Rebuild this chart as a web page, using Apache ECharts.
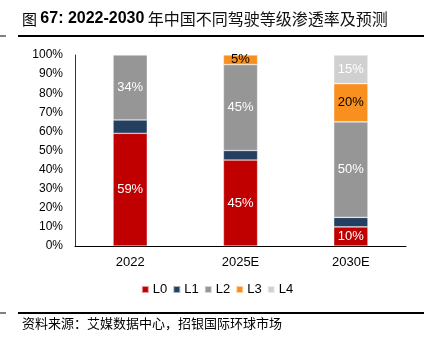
<!DOCTYPE html>
<html>
<head>
<meta charset="utf-8">
<script src="https://cdn.jsdelivr.net/npm/echarts@6/dist/echarts.min.js"></script>
<style>
  html, body { margin: 0; padding: 0; background: #fff; }
  #chart { width: 434px; height: 343px; }
</style>
</head>
<body>
<div id="chart"></div>
<script>
// Penetration of driving-automation levels in China, 2022-2030 (%)
const categories = ['2022', '2025E', '2030E'];
const levelNames = ['L0', 'L1', 'L2', 'L3', 'L4'];
const L0 = [59, 45, 10];
const L1 = [7, 5, 5];
const L2 = [34, 45, 50];
const L3 = [0, 5, 20];
const L4 = [0, 0, 15];
const yTicks = [0, 10, 20, 30, 40, 50, 60, 70, 80, 90, 100];

const colors = ['#C00000', '#243F60', '#969696', '#F7901E', '#D0D0D0'];
const labelColors = ['#fff', null, '#fff', '#000', '#fff'];
const seriesValues = [L0, L1, L2, L3, L4];

const font = '"Liberation Sans", Arial, sans-serif';
const cjk = '"Noto Sans CJK SC", sans-serif';

const chart = echarts.init(document.getElementById('chart'), null, { renderer: 'canvas' });

const series = levelNames.map((name, i) => ({
  name: name,
  type: 'bar',
  stack: 'total',
  barWidth: '31%',
  data: seriesValues[i].map(v => (v === 0 ? null : v)),
  itemStyle: { color: colors[i], borderColor: 'rgba(255,255,255,0.6)', borderWidth: 0.6 },
  label: {
    show: labelColors[i] !== null,
    position: 'inside',
    formatter: p => p.value + '%',
    color: labelColors[i] || '#fff',
    fontFamily: font,
    fontSize: 13
  },
  emphasis: { disabled: true }
}));

chart.setOption({
  animation: false,
  backgroundColor: '#fff',
  grid: { left: 75, right: 28, top: 55, bottom: 97, containLabel: false },
  legend: {
    data: levelNames,
    bottom: 42,
    left: 'center',
    icon: 'rect',
    itemWidth: 7,
    itemHeight: 7,
    itemGap: 5,
    textStyle: { fontFamily: font, fontSize: 13, color: '#000', padding: [0, 0, 0, -1] }
  },
  xAxis: {
    type: 'category',
    data: categories,
    axisLine: { lineStyle: { color: '#000', width: 1 } },
    axisTick: { show: false },
    axisLabel: { color: '#000', fontFamily: font, fontSize: 13, margin: 10 }
  },
  yAxis: {
    type: 'value',
    min: yTicks[0],
    max: yTicks[yTicks.length - 1],
    interval: yTicks[1] - yTicks[0],
    splitLine: { show: false },
    axisLine: { show: true, lineStyle: { color: '#333', width: 1 } },
    axisTick: { show: false },
    axisLabel: { color: '#000', fontFamily: font, fontSize: 12, margin: 12, formatter: '{value}%' }
  },
  graphic: [
    {
      type: 'text', left: 22, top: 11,
      style: {
        text: '{a|图} {b|67: 2022-2030} {c|年中国不同驾驶等级渗透率及预测}',
        rich: {
          a: { font: '15px ' + cjk, fill: '#000' },
          b: { font: 'bold 16px ' + font, fill: '#000' },
          c: { font: '16px ' + cjk, fill: '#111' }
        }
      }
    },
    { type: 'rect', shape: { x: 18, y: 35, width: 406, height: 2 }, style: { fill: '#000' } },
    { type: 'rect', shape: { x: 0, y: 35.5, width: 6, height: 1 }, style: { fill: '#000' } },
    { type: 'rect', shape: { x: 18, y: 312, width: 406, height: 2 }, style: { fill: '#000' } },
    { type: 'rect', shape: { x: 0, y: 312.5, width: 6, height: 1 }, style: { fill: '#000' } },
    {
      type: 'text', left: 22, top: 317,
      style: { text: '资料来源：艾媒数据中心，招银国际环球市场', font: '13px ' + cjk, fill: '#000' }
    }
  ],
  series: series
});
</script>
</body>
</html>
